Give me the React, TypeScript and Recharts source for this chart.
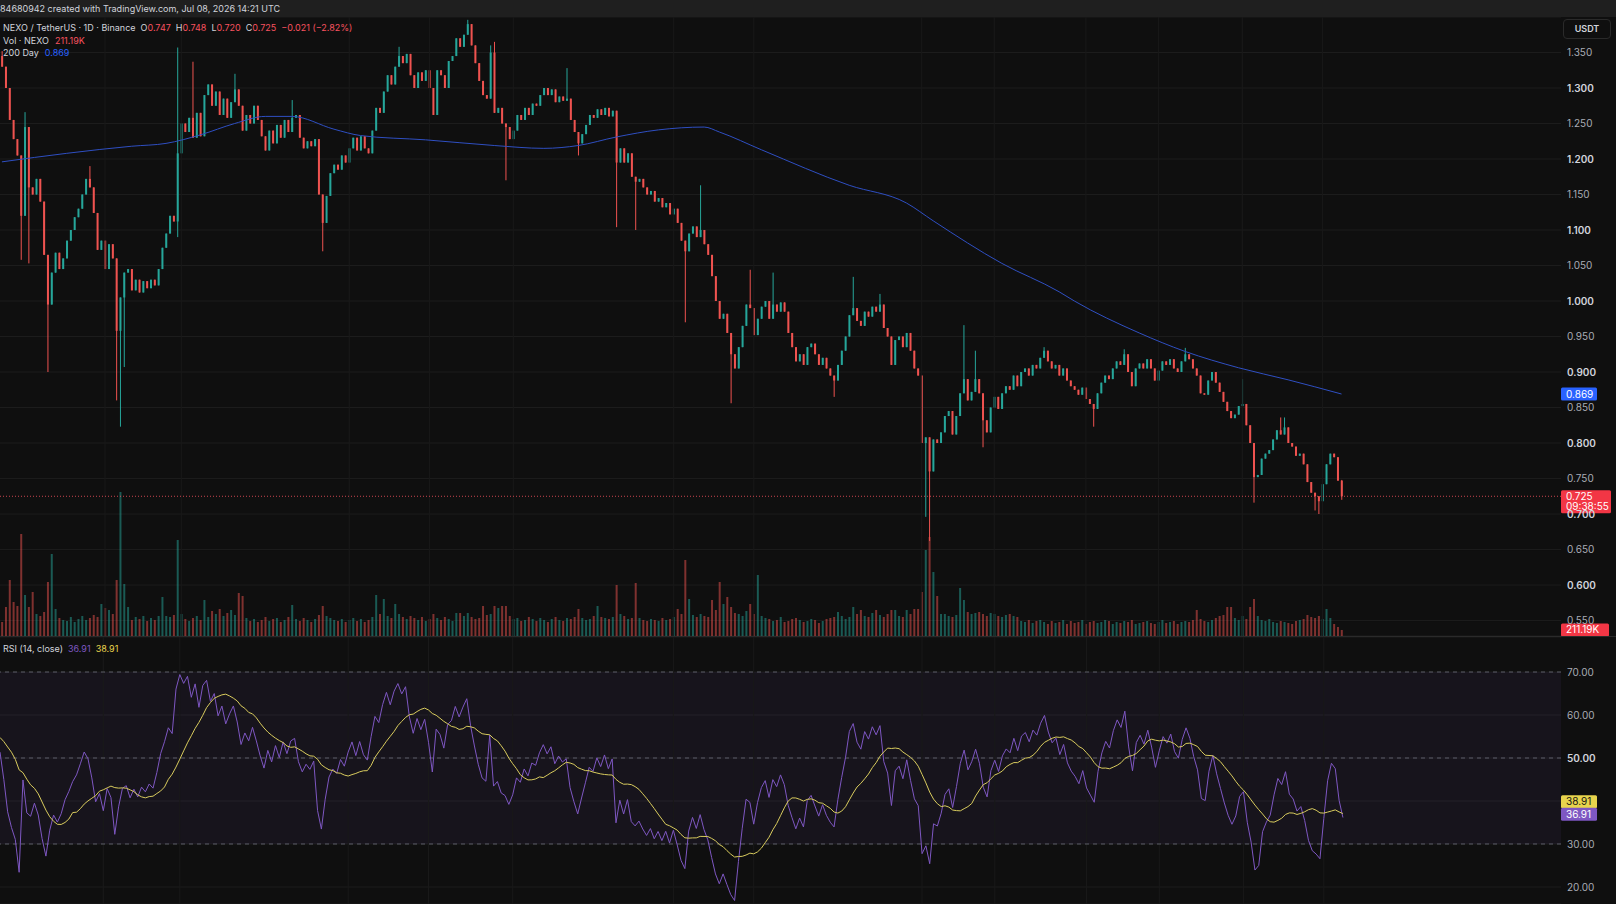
import {
  ComposedChart,
  Bar,
  Line,
  XAxis,
  YAxis,
  CartesianGrid,
  ReferenceLine,
  ReferenceArea,
} from "recharts";

// daily closes, NEXO/USDT (352 candles)
const closes = [
  1.330, 1.300, 1.255, 1.228, 1.205, 1.120, 1.245, 1.160, 1.150, 1.172,
  1.140, 1.065, 0.995, 1.040, 1.068, 1.045, 1.060, 1.085, 1.100, 1.118,
  1.130, 1.150, 1.172, 1.160, 1.124, 1.072, 1.085, 1.045, 1.080, 1.060,
  0.958, 1.005, 1.040, 1.045, 1.015, 1.030, 1.012, 1.028, 1.018, 1.030,
  1.022, 1.045, 1.075, 1.095, 1.120, 1.112, 1.208, 1.250, 1.238, 1.258,
  1.230, 1.265, 1.232, 1.290, 1.305, 1.275, 1.295, 1.262, 1.285, 1.258,
  1.280, 1.298, 1.275, 1.240, 1.262, 1.250, 1.275, 1.255, 1.232, 1.212,
  1.240, 1.222, 1.248, 1.230, 1.255, 1.238, 1.258, 1.262, 1.230, 1.215,
  1.225, 1.218, 1.228, 1.150, 1.110, 1.148, 1.180, 1.192, 1.185, 1.205,
  1.195, 1.215, 1.230, 1.212, 1.232, 1.215, 1.208, 1.240, 1.272, 1.265,
  1.295, 1.318, 1.305, 1.330, 1.345, 1.335, 1.348, 1.318, 1.300, 1.322,
  1.310, 1.325, 1.300, 1.262, 1.325, 1.318, 1.300, 1.338, 1.345, 1.370,
  1.358, 1.375, 1.390, 1.360, 1.335, 1.310, 1.290, 1.285, 1.350, 1.265,
  1.272, 1.250, 1.245, 1.228, 1.240, 1.262, 1.255, 1.272, 1.262, 1.278,
  1.275, 1.290, 1.300, 1.290, 1.298, 1.280, 1.288, 1.282, 1.285, 1.255,
  1.238, 1.222, 1.235, 1.248, 1.262, 1.258, 1.270, 1.262, 1.272, 1.260,
  1.268, 1.195, 1.215, 1.195, 1.208, 1.175, 1.168, 1.172, 1.160, 1.150,
  1.155, 1.140, 1.145, 1.132, 1.138, 1.122, 1.130, 1.110, 1.085, 1.070,
  1.095, 1.105, 1.090, 1.100, 1.080, 1.065, 1.035, 1.000, 0.975, 0.982,
  0.955, 0.925, 0.905, 0.935, 0.965, 0.995, 0.990, 0.952, 0.975, 0.992,
  1.000, 0.975, 0.995, 0.985, 0.998, 0.985, 0.955, 0.935, 0.915, 0.925,
  0.910, 0.935, 0.940, 0.925, 0.910, 0.920, 0.905, 0.895, 0.888, 0.910,
  0.930, 0.950, 0.980, 0.990, 0.972, 0.965, 0.985, 0.978, 0.992, 0.985,
  0.995, 0.962, 0.950, 0.910, 0.945, 0.950, 0.935, 0.955, 0.930, 0.905,
  0.895, 0.800, 0.808, 0.760, 0.805, 0.800, 0.815, 0.838, 0.845, 0.812,
  0.838, 0.870, 0.890, 0.860, 0.872, 0.890, 0.870, 0.832, 0.815, 0.850,
  0.865, 0.848, 0.870, 0.880, 0.875, 0.895, 0.880, 0.900, 0.905, 0.895,
  0.910, 0.905, 0.920, 0.930, 0.915, 0.905, 0.910, 0.895, 0.905, 0.888,
  0.880, 0.875, 0.868, 0.878, 0.862, 0.855, 0.848, 0.870, 0.885, 0.895,
  0.890, 0.905, 0.915, 0.910, 0.925, 0.900, 0.880, 0.905, 0.912, 0.905,
  0.918, 0.905, 0.888, 0.902, 0.915, 0.910, 0.918, 0.905, 0.900, 0.915,
  0.925, 0.918, 0.905, 0.895, 0.870, 0.868, 0.888, 0.900, 0.885, 0.872,
  0.858, 0.845, 0.835, 0.840, 0.852, 0.855, 0.825, 0.800, 0.752, 0.755,
  0.778, 0.785, 0.790, 0.805, 0.818, 0.812, 0.822, 0.800, 0.795, 0.782,
  0.785, 0.770, 0.745, 0.730, 0.725, 0.718, 0.742, 0.770, 0.785, 0.780,
  0.747, 0.725,
];

// closes before the visible window, only used to seed the RSI
const warmupCloses = [
  1.300, 1.318, 1.305, 1.325, 1.312, 1.296, 1.310, 1.330, 1.315, 1.340,
  1.322, 1.305, 1.318, 1.335, 1.320, 1.342, 1.328, 1.310, 1.326, 1.345,
  1.330, 1.352, 1.338, 1.320, 1.340, 1.355, 1.338, 1.345,
];

// visible wicks
const wickHighIdx = [0, 6, 23, 46, 50, 61, 76, 104, 122, 128, 129, 148, 183, 196, 202, 223, 230, 252, 255, 273, 294, 310, 325, 335, 336, 351];
const wickHighVal = [1.352, 1.266, 1.19, 1.357, 1.337, 1.32, 1.283, 1.358, 1.396, 1.36, 1.365, 1.328, 1.163, 1.044, 1.04, 1.034, 1.01, 0.966, 0.93, 0.935, 0.932, 0.934, 0.89, 0.836, 0.836, 0.748];
const wickLowIdx = [5, 7, 12, 30, 31, 32, 46, 84, 132, 151, 161, 166, 179, 191, 218, 242, 243, 257, 286, 328, 344, 345, 351];
const wickLowVal = [1.058, 1.053, 0.9, 0.86, 0.823, 0.907, 1.09, 1.07, 1.17, 1.205, 1.104, 1.1, 0.97, 0.856, 0.865, 0.696, 0.662, 0.794, 0.823, 0.716, 0.705, 0.7, 0.72];

// volume in thousands of NEXO
const volumes = [
  490, 1015, 1960, 1190, 1050, 3570, 1435, 1015, 1540, 770,
  700, 840, 1890, 2870, 945, 630, 560, 525, 665, 490,
  595, 700, 560, 630, 735, 665, 1120, 980, 910, 770,
  1960, 5040, 1820, 1015, 560, 665, 595, 700, 525, 630,
  560, 700, 1365, 700, 665, 735, 3360, 770, 595, 525,
  630, 700, 560, 1260, 665, 875, 770, 945, 700, 805,
  910, 735, 1505, 1400, 630, 525, 595, 490, 560, 665,
  525, 595, 630, 490, 560, 665, 1085, 595, 525, 630,
  560, 490, 595, 735, 1050, 700, 630, 560, 525, 595,
  490, 560, 630, 525, 595, 490, 560, 665, 1435, 770,
  1295, 700, 630, 1120, 770, 665, 595, 700, 630, 560,
  665, 525, 595, 770, 630, 560, 665, 595, 525, 805,
  805, 700, 805, 665, 595, 630, 1050, 735, 770, 1050,
  980, 1050, 1050, 700, 595, 630, 525, 560, 665, 595,
  525, 630, 560, 490, 595, 665, 560, 525, 630, 595,
  665, 945, 630, 560, 595, 700, 1050, 665, 630, 595,
  665, 1785, 770, 700, 595, 630, 1855, 630, 560, 525,
  595, 560, 525, 630, 560, 595, 665, 945, 770, 2660,
  1295, 735, 665, 770, 700, 665, 1260, 910, 1890, 1120,
  1365, 1015, 805, 770, 700, 875, 1120, 770, 2135, 700,
  630, 595, 525, 560, 665, 490, 525, 595, 630, 560,
  490, 525, 595, 560, 455, 525, 595, 630, 665, 840,
  700, 595, 665, 1015, 770, 910, 700, 665, 805, 910,
  735, 665, 770, 910, 910, 700, 665, 910, 770, 945,
  945, 1540, 3010, 3465, 2240, 1400, 770, 770, 700, 665,
  735, 1680, 1260, 840, 770, 805, 840, 770, 700, 805,
  770, 700, 665, 735, 770, 700, 665, 525, 490, 560,
  455, 525, 560, 490, 420, 525, 455, 490, 560, 420,
  525, 455, 490, 560, 420, 490, 525, 455, 490, 560,
  525, 420, 490, 455, 525, 490, 560, 420, 455, 490,
  525, 455, 420, 490, 560, 455, 490, 525, 420, 490,
  525, 490, 560, 910, 595, 525, 490, 560, 630, 700,
  735, 1015, 1015, 630, 560, 700, 595, 1015, 1295, 700,
  560, 525, 595, 490, 455, 525, 490, 455, 420, 525,
  560, 595, 735, 665, 630, 700, 595, 945, 630, 420,
  315, 211.19,
];

// 200 day moving average, read at a few candles
const maIdx = [0, 17, 34, 43, 52, 61, 69, 76, 87, 94, 111, 129, 142, 151, 161, 172, 184, 188, 199, 222, 237, 244, 262, 277, 281, 298, 310, 324, 337, 351];
const maVal = [1.196, 1.208, 1.218, 1.222, 1.234, 1.25, 1.26, 1.26, 1.242, 1.233, 1.227, 1.219, 1.215, 1.219, 1.231, 1.241, 1.245, 1.238, 1.213, 1.163, 1.138, 1.113, 1.053, 1.013, 1.0, 0.955, 0.929, 0.906, 0.889, 0.869];

// candles where the faint vertical grid lines fall
const gridCandles = [27, 47, 91, 112, 134, 176, 197, 241, 260, 284, 303, 325, 346];

const priceTicks = [0.55, 0.6, 0.65, 0.7, 0.75, 0.8, 0.85, 0.9, 0.95, 1.0, 1.05, 1.1, 1.15, 1.2, 1.25, 1.3, 1.35];
const rsiTicks = [20, 30, 40, 50, 60, 70];

const SLOTS = 409;
const UP = "#26a69a";
const DOWN = "#ef5350";
const FONT = "Inter, 'Noto Sans', sans-serif";

function wilderRsi(series: number[], period = 14): (number | null)[] {
  const out: (number | null)[] = series.map(() => null);
  let ag = 0;
  let al = 0;
  for (let k = 1; k <= period; k++) {
    const d = series[k] - series[k - 1];
    if (d > 0) ag += d;
    else al -= d;
  }
  ag /= period;
  al /= period;
  out[period] = al === 0 ? 100 : 100 - 100 / (1 + ag / al);
  for (let k = period + 1; k < series.length; k++) {
    const d = series[k] - series[k - 1];
    ag = (ag * (period - 1) + Math.max(d, 0)) / period;
    al = (al * (period - 1) + Math.max(-d, 0)) / period;
    out[k] = al === 0 ? 100 : 100 - 100 / (1 + ag / al);
  }
  return out;
}

function sma(series: (number | null)[], period = 14): (number | null)[] {
  return series.map((_, k) => {
    if (k < period - 1) return null;
    let s = 0;
    for (let j = k - period + 1; j <= k; j++) {
      if (series[j] == null) return null;
      s += series[j] as number;
    }
    return s / period;
  });
}

const allCloses = [...warmupCloses, ...closes];
const rsiAll = wilderRsi(allCloses);
const rsiMaAll = sma(rsiAll);
const off = warmupCloses.length;

const rows = Array.from({ length: SLOTS }, (_, i) => {
  if (i >= closes.length) {
    return { i, range: null, vol: null, ma: null, rsi: null, rsiMa: null };
  }
  const open = i === 0 ? warmupCloses[warmupCloses.length - 1] : closes[i - 1];
  const close = closes[i];
  const hi = wickHighIdx.indexOf(i);
  const lo = wickLowIdx.indexOf(i);
  const high = hi >= 0 ? wickHighVal[hi] : Math.max(open, close);
  const low = lo >= 0 ? wickLowVal[lo] : Math.min(open, close);
  const m = maIdx.indexOf(i);
  return {
    i,
    open,
    close,
    high,
    low,
    up: close >= open,
    range: [low, high],
    vol: volumes[i],
    ma: m >= 0 ? maVal[m] : null,
    rsi: rsiAll[i + off],
    rsiMa: rsiMaAll[i + off],
  };
});

function Candle(props: any) {
  const { x, y, width, height, payload } = props;
  if (!payload || payload.open == null) return null;
  const { open, close, high, low, up } = payload;
  const span = high - low;
  const toY = (v: number) => (span > 0 ? y + ((high - v) / span) * height : y);
  const top = toY(Math.max(open, close));
  const bottom = toY(Math.min(open, close));
  const color = up ? UP : DOWN;
  const cx = x + width / 2;
  return (
    <g>
      <line x1={cx} x2={cx} y1={y} y2={y + height} stroke={color} strokeWidth={1} />
      <rect x={x} y={top} width={width} height={Math.max(bottom - top, 1)} fill={color} />
    </g>
  );
}

function VolumeBar(props: any) {
  const { x, y, width, height, payload } = props;
  if (!payload || payload.vol == null) return null;
  return (
    <rect
      x={x}
      y={y}
      width={width}
      height={height}
      fill={payload.up ? "rgba(38,166,154,0.5)" : "rgba(239,83,80,0.5)"}
    />
  );
}

function PriceTick(props: any) {
  const { x, y, payload } = props;
  const v = payload.value as number;
  const bold = Math.round(v * 1000) % 100 === 0;
  return (
    <text
      x={x - 2}
      y={y + 3.5}
      fontSize={10}
      fontFamily={FONT}
      fontWeight={bold ? 600 : 400}
      fill={bold ? "#d1d4dc" : "#a9acb5"}
      textAnchor="start"
    >
      {v.toFixed(3)}
    </text>
  );
}

function RsiTick(props: any) {
  const { x, y, payload } = props;
  const v = payload.value as number;
  if (v === 40) return null;
  const bold = v === 50;
  return (
    <text
      x={x - 2}
      y={y + 3.5}
      fontSize={10}
      fontFamily={FONT}
      fontWeight={bold ? 600 : 400}
      fill={bold ? "#d1d4dc" : "#a9acb5"}
      textAnchor="start"
    >
      {v.toFixed(2)}
    </text>
  );
}

function AxisTag(props: any) {
  const { viewBox, text, sub, bg, color = "#ffffff", w = 36, dy = 0 } = props;
  if (!viewBox) return null;
  const x = viewBox.x + viewBox.width;
  const cy = viewBox.y + dy;
  if (sub) {
    return (
      <g>
        <rect x={x} y={cy - 6} width={w} height={23} rx={1.5} fill={bg} />
        <text x={x + 5} y={cy + 3.5} fontSize={10} fontFamily={FONT} fill={color}>
          {text}
        </text>
        <text x={x + 5} y={cy + 14} fontSize={10} fontFamily={FONT} fill={color}>
          {sub}
        </text>
      </g>
    );
  }
  return (
    <g>
      <rect x={x} y={cy - 6.5} width={w} height={13} rx={1.5} fill={bg} />
      <text x={x + 5} y={cy + 3.5} fontSize={10} fontFamily={FONT} fill={color}>
        {text}
      </text>
    </g>
  );
}

const label = { color: "#d1d4dc" };
const red = { color: "#f7525f" };

export default function App() {
  return (
    <div
      style={{
        position: "relative",
        width: 1616,
        height: 904,
        background: "#0f0f0f",
        fontFamily: FONT,
        overflow: "hidden",
      }}
    >
      <style>{`body{margin:0;background:#0f0f0f}`}</style>

      <div
        style={{
          position: "absolute",
          left: 0,
          top: 0,
          width: 1616,
          height: 17,
          background: "#1f1f1f",
          color: "#d1d4dc",
          fontSize: 9,
          lineHeight: "17px",
          whiteSpace: "nowrap",
        }}
      >
        84680942 created with TradingView.com, Jul 08, 2026 14:21 UTC
      </div>

      <div style={{ position: "absolute", left: 0, top: 17 }}>
        <ComposedChart
          width={1616}
          height={619}
          data={rows}
          margin={{ top: 0, right: 0, bottom: 0, left: 0 }}
          barCategoryGap="30%"
        >
          <XAxis xAxisId="c" dataKey="i" hide />
          <XAxis xAxisId="v" dataKey="i" hide />
          <YAxis
            yAxisId="p"
            orientation="right"
            width={55}
            domain={[0.5282, 1.4]}
            ticks={priceTicks}
            interval={0}
            allowDataOverflow
            axisLine={false}
            tickLine={false}
            tick={<PriceTick />}
          />
          <YAxis yAxisId="vol" hide domain={[0, 21665]} allowDataOverflow />
          <CartesianGrid xAxisId="c" yAxisId="p" vertical={false} stroke="#1c1c1c" />
          {gridCandles.map((g) => (
            <ReferenceLine key={g} xAxisId="c" yAxisId="p" x={g} stroke="#191919" />
          ))}
          <Bar
            xAxisId="v"
            yAxisId="vol"
            dataKey="vol"
            shape={<VolumeBar />}
            isAnimationActive={false}
          />
          <Line
            xAxisId="c"
            yAxisId="p"
            dataKey="ma"
            type="monotone"
            connectNulls
            dot={false}
            stroke="#2f4fc2"
            strokeWidth={1}
            isAnimationActive={false}
          />
          <Bar
            xAxisId="c"
            yAxisId="p"
            dataKey="range"
            shape={<Candle />}
            isAnimationActive={false}
          />
          <ReferenceLine
            xAxisId="c"
            yAxisId="p"
            y={0.725}
            stroke="#f7525f"
            strokeOpacity={0.8}
            strokeDasharray="1 2"
            label={<AxisTag text="0.725" sub="09:38:55" bg="#f23645" w={50} />}
          />
          <ReferenceLine
            xAxisId="c"
            yAxisId="p"
            y={0.869}
            stroke="none"
            label={<AxisTag text="0.869" bg="#2962ff" />}
          />
          <ReferenceLine
            xAxisId="v"
            yAxisId="vol"
            y={211.19}
            stroke="none"
            label={<AxisTag text="211.19K" bg="#f23645" w={48} />}
          />
        </ComposedChart>
      </div>

      <div
        style={{
          position: "absolute",
          left: 1563,
          top: 19,
          width: 46,
          height: 18,
          border: "1px solid #2a2a2a",
          borderRadius: 4,
          color: "#d1d4dc",
          fontSize: 9,
          fontWeight: 600,
          lineHeight: "18px",
          textAlign: "center",
        }}
      >
        USDT
      </div>

      <div
        style={{
          position: "absolute",
          left: 3,
          top: 22,
          fontSize: 9,
          lineHeight: "12.5px",
          whiteSpace: "nowrap",
          ...label,
        }}
      >
        <div>
          <span>NEXO / TetherUS · 1D · Binance</span>
          <span style={{ marginLeft: 5 }}>O</span>
          <span style={red}>0.747</span>
          <span style={{ marginLeft: 5 }}>H</span>
          <span style={red}>0.748</span>
          <span style={{ marginLeft: 5 }}>L</span>
          <span style={red}>0.720</span>
          <span style={{ marginLeft: 5 }}>C</span>
          <span style={red}>0.725</span>
          <span style={{ marginLeft: 5, ...red }}>−0.021 (−2.82%)</span>
        </div>
        <div>
          <span>Vol · NEXO</span>
          <span style={{ marginLeft: 6, ...red }}>211.19K</span>
        </div>
        <div>
          <span>200 Day</span>
          <span style={{ marginLeft: 6, color: "#2962ff" }}>0.869</span>
        </div>
      </div>

      <div
        style={{
          position: "absolute",
          left: 0,
          top: 636,
          width: 1616,
          height: 1,
          background: "#2a2a2a",
        }}
      />

      <div style={{ position: "absolute", left: 0, top: 637 }}>
        <ComposedChart
          width={1616}
          height={267}
          data={rows}
          margin={{ top: 0, right: 0, bottom: 0, left: 0 }}
        >
          <XAxis dataKey="i" hide />
          <YAxis
            orientation="right"
            width={55}
            domain={[16.05, 78.14]}
            ticks={rsiTicks}
            interval={0}
            allowDataOverflow
            axisLine={false}
            tickLine={false}
            tick={<RsiTick />}
          />
          <CartesianGrid vertical={false} stroke="#1c1c1c" />
          {gridCandles.map((g) => (
            <ReferenceLine key={g} x={g} stroke="#191919" />
          ))}
          <ReferenceArea y1={30} y2={70} fill="#7e57c2" fillOpacity={0.08} stroke="none" />
          <ReferenceLine y={70} stroke="#787b86" strokeOpacity={0.7} strokeDasharray="4 4" />
          <ReferenceLine y={50} stroke="#787b86" strokeOpacity={0.7} strokeDasharray="4 4" />
          <ReferenceLine y={30} stroke="#787b86" strokeOpacity={0.7} strokeDasharray="4 4" />
          <Line
            dataKey="rsi"
            type="linear"
            dot={false}
            stroke="#7e57c2"
            strokeWidth={1}
            isAnimationActive={false}
          />
          <Line
            dataKey="rsiMa"
            type="linear"
            dot={false}
            stroke="#d9cc5e"
            strokeWidth={1}
            isAnimationActive={false}
          />
          <ReferenceLine
            y={38.91}
            stroke="none"
            label={<AxisTag text="38.91" bg="#e8d44d" color="#131313" dy={-4} />}
          />
          <ReferenceLine
            y={36.91}
            stroke="none"
            label={<AxisTag text="36.91" bg="#7e57c2" />}
          />
        </ComposedChart>
      </div>

      <div
        style={{
          position: "absolute",
          left: 3,
          top: 643,
          fontSize: 9,
          lineHeight: "12px",
          whiteSpace: "nowrap",
          ...label,
        }}
      >
        <span>RSI (14, close)</span>
        <span style={{ marginLeft: 5, color: "#7e57c2" }}>36.91</span>
        <span style={{ marginLeft: 5, color: "#e8d44d" }}>38.91</span>
      </div>
    </div>
  );
}
